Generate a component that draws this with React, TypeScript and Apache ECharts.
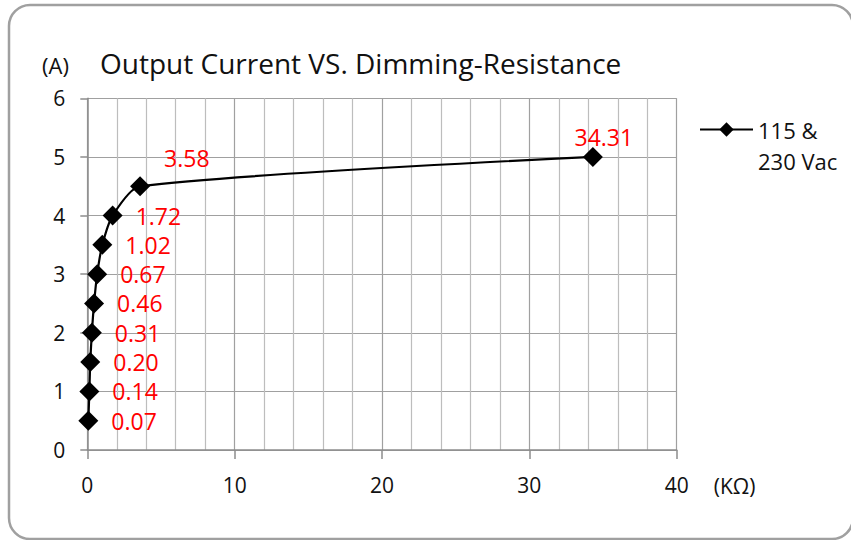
import React, { useEffect, useRef } from "react";
import * as echarts from "echarts";

const resistanceK = [0.07, 0.14, 0.2, 0.31, 0.46, 0.67, 1.02, 1.72, 3.58, 34.31];
const currentA = [0.5, 1, 1.5, 2, 2.5, 3, 3.5, 4, 4.5, 5];
const seriesName = "115 & 230 Vac";
const legendLines = ["115 &", "230 Vac"];
const titleText = "Output Current VS. Dimming-Resistance";
const yUnit = "(A)";
const xUnit = "(KΩ)";

const FONT = "Open Sans";

export default function App() {
  const ref = useRef<HTMLDivElement>(null);
  useEffect(() => {
    document.body.style.margin = "0";
    if (!ref.current) return;
    const chart = echarts.init(ref.current, undefined, { renderer: "svg" });
    const data = resistanceK.map((x, i) => {
      const item: any = { value: [x, currentA[i]] };
      if (i === 8) {
        item.label = { position: "right", offset: [1, -28] };
      } else if (i === 9) {
        item.label = { position: "top", distance: 0, offset: [11, 2] };
      }
      return item;
    });
    chart.setOption({
      animation: false,
      textStyle: { fontFamily: FONT },
      title: [
        {
          text: yUnit,
          left: 37,
          top: 49,
          textStyle: { fontFamily: FONT, fontSize: 22, fontWeight: "normal", color: "#111" },
        },
        {
          text: titleText,
          left: 95,
          top: 44,
          textStyle: { fontFamily: FONT, fontSize: 28, fontWeight: "normal", color: "#111" },
        },
      ],
      legend: {
        left: 694,
        top: 78,
        itemWidth: 53,
        itemHeight: 18,
        itemGap: 5,
        formatter: () => "\n" + legendLines.join("\n"),
        textStyle: {
          fontFamily: FONT,
          fontSize: 22,
          color: "#111",
          lineHeight: 31,
        },
        data: [seriesName],
      },
      grid: { left: 87.3, right: 174.3, top: 98.3, bottom: 90, containLabel: false },
      xAxis: {
        type: "value",
        min: 0,
        max: 40,
        interval: 10,
        name: "\n" + xUnit,
        nameLocation: "end",
        nameGap: 37,
        nameTextStyle: { fontFamily: FONT, fontSize: 21, color: "#111", lineHeight: 72 },
        axisLine: { show: true, lineStyle: { color: "#8c8c8c", width: 1.5 } },
        axisTick: { show: true, length: 9, lineStyle: { color: "#8c8c8c", width: 1.5 } },
        axisLabel: { fontFamily: FONT, fontSize: 21, color: "#111", margin: 24 },
        splitLine: { show: true, lineStyle: { color: "#a0a0a0", width: 1.2 } },
        minorTick: { show: false, splitNumber: 5 },
        minorSplitLine: { show: true, lineStyle: { color: "#bdbdbd", width: 1.2 } },
      },
      yAxis: {
        type: "value",
        min: 0,
        max: 6,
        interval: 1,
        axisLine: { show: true, lineStyle: { color: "#8c8c8c", width: 1.5 } },
        axisTick: { show: true, length: 7, lineStyle: { color: "#8c8c8c", width: 1.5 } },
        axisLabel: { fontFamily: FONT, fontSize: 21, color: "#111", margin: 22 },
        splitLine: { show: true, lineStyle: { color: "#a0a0a0", width: 1.2 } },
      },
      graphic: [
        {
          type: "rect",
          shape: { x: 9, y: 5, width: 844, height: 534, r: 21 },
          style: { fill: "none", stroke: "#a0a0a0", lineWidth: 2.5 },
          silent: true,
          z: -1,
        },
      ],
      series: [
        {
          name: seriesName,
          type: "line",
          smooth: 0.25,
          symbol: "diamond",
          symbolSize: 20,
          lineStyle: { color: "#000", width: 2.2 },
          itemStyle: { color: "#000" },
          label: {
            show: true,
            position: "right",
            distance: 13,
            color: "#ff0000",
            fontFamily: FONT,
            fontSize: 23,
            formatter: (p: any) => p.value[0].toFixed(2),
          },
          data,
        },
      ],
    });
    return () => chart.dispose();
  }, []);
  return <div ref={ref} style={{ width: 851, height: 540 }} />;
}
